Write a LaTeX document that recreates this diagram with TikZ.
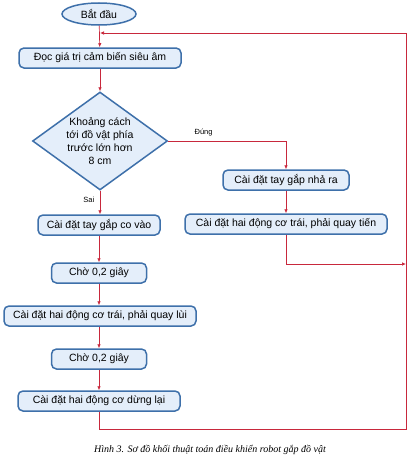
\documentclass[tikz,border=0pt]{standalone}
\usepackage{fontspec}
\setmainfont{Liberation Sans}
\newfontfamily\captionserif{Liberation Serif}
\usepackage{xcolor}
\usepackage{tikz}
\usetikzlibrary{arrows.meta,positioning,shapes.geometric}

\definecolor{flowred}{RGB}{200,40,60}
\definecolor{boxblue}{RGB}{62,112,170}
\definecolor{boxfill}{RGB}{228,238,250}

\begin{document}
\begin{tikzpicture}[
      x=1pt, y=1pt,
      font=\fontsize{10.5}{13}\selectfont,
      % Reusable styles for the flowchart
      box/.style={
        draw=boxblue,
        line width=1.5pt,
        fill=boxfill,
        rounded corners=5pt,
        align=center,
        inner xsep=6pt,
        minimum height=20pt
      },
      startstop/.style={
        ellipse,
        draw=boxblue,
        line width=1.5pt,
        fill=boxfill,
        minimum width=74pt,
        minimum height=22pt,
        inner sep=1pt
      },
      decision/.style={
        diamond,
        draw=boxblue,
        line width=1.5pt,
        fill=boxfill,
        aspect=1.38,
        inner sep=-2pt,
        align=center,
        minimum width=135pt,
        minimum height=98pt
      },
      arrow/.style={-{Latex[length=4pt,width=3.5pt]}, line width=0.7pt, draw=flowred},
      label/.style={font=\fontsize{7.5}{9}\selectfont}
    ]
    \useasboundingbox (0,0) rectangle (416,-463);

    % Main column
    \node[startstop] (start) at (99,-14) {Bắt đầu};
    \node[box, minimum width=162pt] (read) at (100,-58) {Đọc giá trị cảm biến siêu âm};
    \node[decision] (cond) at (100,-141) {Khoảng cách\\tới đồ vật phía\\trước lớn hơn\\8 cm};
    \node[box, minimum width=122pt] (covao) at (99,-225) {Cài đặt tay gắp co vào};
    \node[box, minimum width=95pt] (cho1) at (99,-273) {Chờ 0,2 giây};
    \node[box, minimum width=192pt] (lui) at (100,-316) {Cài đặt hai động cơ trái, phải quay lùi};
    \node[box, minimum width=95pt] (cho2) at (99,-359) {Chờ 0,2 giây};
    \node[box, minimum width=162pt] (dung) at (99,-401) {Cài đặt hai động cơ dừng lại};

    % Right branch
    \node[box, minimum width=126pt] (nhara) at (286,-180) {Cài đặt tay gắp nhả ra};
    \node[box, minimum width=202pt] (tien) at (286,-224) {Cài đặt hai động cơ trái, phải quay tiến};

    % Loop corners
    \coordinate (loopin) at (100,-33);
    \coordinate (loopr) at (406,-33);
    \coordinate (loopb) at (406,-429);
    \coordinate (join) at (406,-264);

    % Connectors
    \draw[arrow] (start) -- (read);
    \draw[arrow] (read.south -| cond.north) -- (cond.north);
    \draw[arrow] (cond.south) -- node[label, pos=0.4, left=2pt]{Sai} (cond.south |- covao.north);
    \draw[arrow] (cond.east) -| node[label, pos=0.15, above=1pt]{Đúng} (nhara);
    \draw[arrow] (nhara) -- (tien);
    \draw[arrow] (tien.south) |- (join);
    \draw[arrow] (covao) -- (cho1);
    \draw[arrow] (cho1) -- (cho1 |- lui.north);
    \draw[arrow] (lui.south -| cho2) -- (cho2);
    \draw[arrow] (cho2) -- (dung);

    % The loop back to the top
    \draw[arrow] (dung.south) |- (loopb) -- (loopr) -- (loopin);

    % Caption
    \node[font=\captionserif\itshape\fontsize{10}{12}\selectfont] (caption) at (210,-450) {Hình 3. Sơ đồ khối thuật toán điều khiển robot gắp đồ vật};
  \end{tikzpicture}
\end{document}
